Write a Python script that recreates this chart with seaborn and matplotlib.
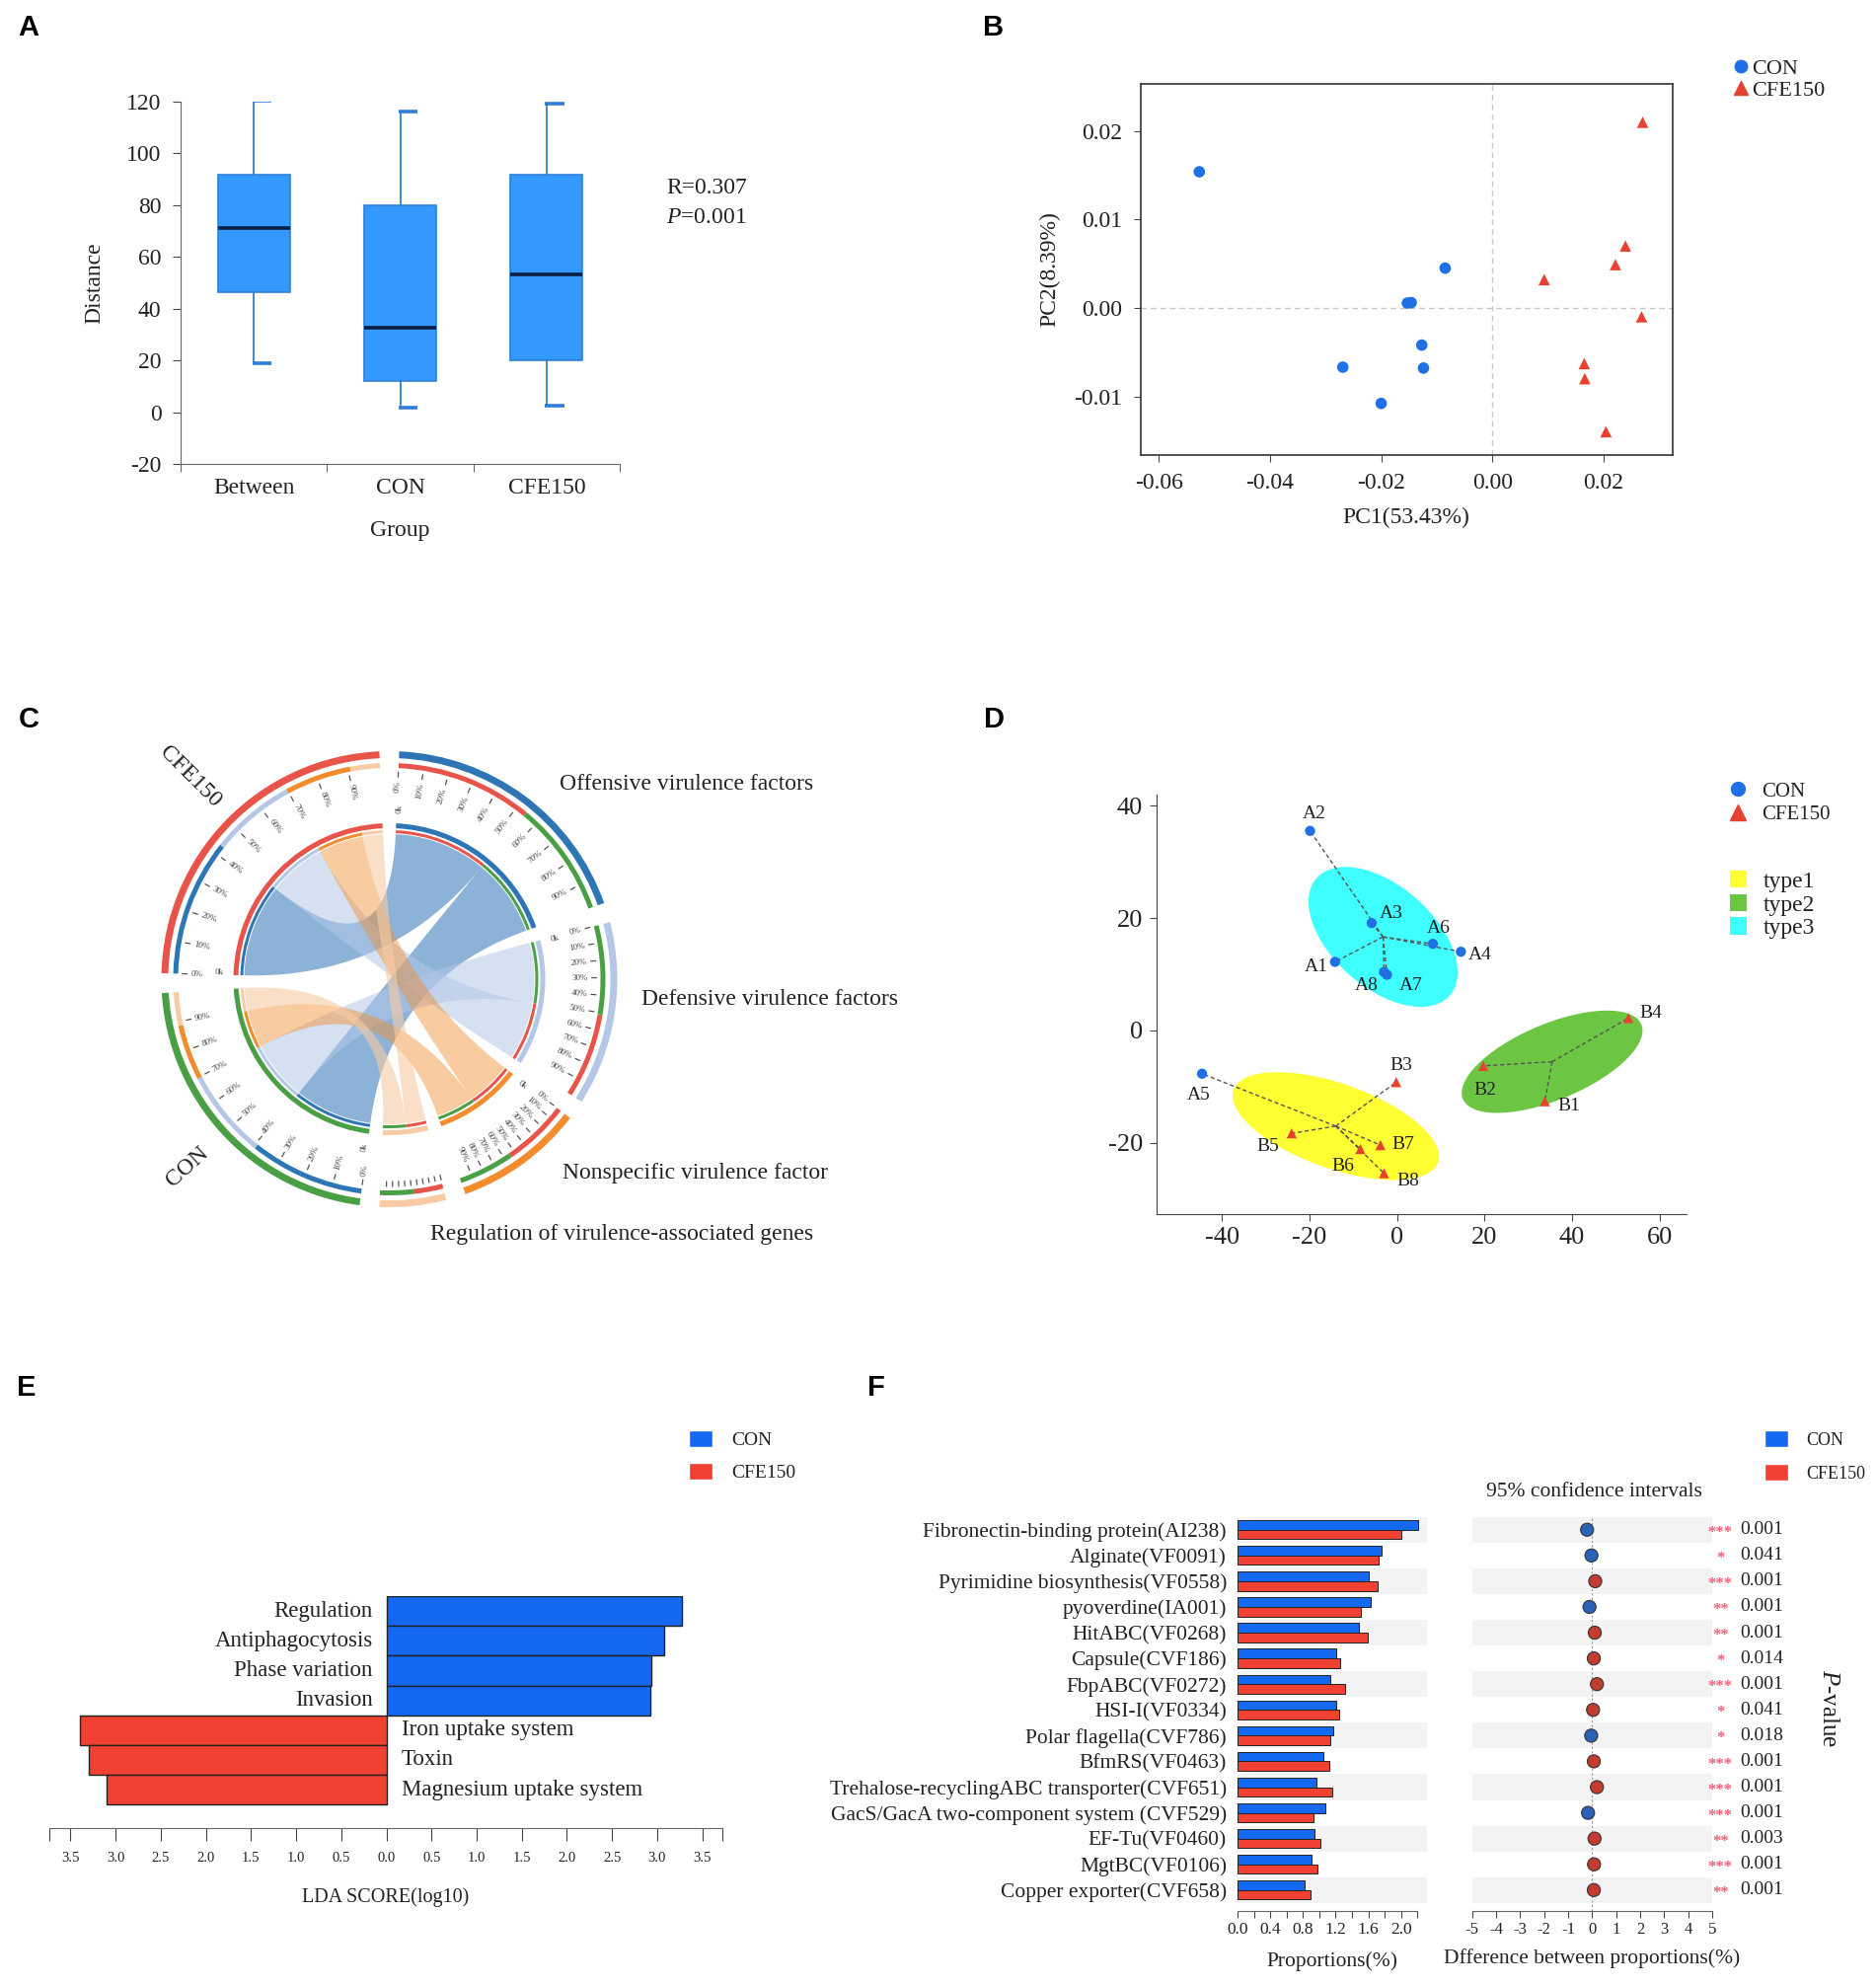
import numpy as np
import pandas as pd
import seaborn as sns
import matplotlib.pyplot as plt
from matplotlib.patches import Wedge, Polygon, Ellipse, Patch
from matplotlib.lines import Line2D

# ---------------- data ----------------
# A: ANOSIM distances (box statistics)
anosim_groups = ["Between", "CON", "CFE150"]
anosim_whislo = [18.9, 1.9, 2.6]
anosim_q1 = [46.5, 12.2, 20.0]
anosim_med = [71.0, 32.6, 53.4]
anosim_q3 = [91.7, 79.8, 91.7]
anosim_whishi = [120.3, 116.3, 119.3]

# B: PCoA
pcoa_con_x = [-0.0527, -0.0085, -0.0153, -0.0146, -0.0127, -0.0124, -0.0269, -0.0200]
pcoa_con_y = [0.0154, 0.0045, 0.00055, 0.0006, -0.0042, -0.0068, -0.0067, -0.0108]
pcoa_cfe_x = [0.0270, 0.0239, 0.0221, 0.0093, 0.0268, 0.0165, 0.0166, 0.0204]
pcoa_cfe_y = [0.0210, 0.0070, 0.0049, 0.0032, -0.0010, -0.0063, -0.0080, -0.0140]

# C: chord diagram (relative abundance of VF categories per group)
chord_cats = ["Offensive virulence factors", "Defensive virulence factors",
              "Nonspecific virulence factor", "Regulation of virulence-associated genes"]
chord_cfe = [37, 23, 18, 8]
chord_con = [31, 24, 15, 9]
cat_link_order = [["CFE150", "CON"], ["CON", "CFE150"], ["CFE150", "CON"], ["CFE150", "CON"]]

# D: PCA with clusters
pca_samples = ["A1", "A2", "A3", "A4", "A5", "A6", "A7", "A8",
               "B1", "B2", "B3", "B4", "B5", "B6", "B7", "B8"]
pca_x = [-14.2, -19.9, -5.8, 14.6, -44.6, 8.2, -2.3, -3.0,
         33.8, 19.7, -0.2, 52.9, -24.1, -8.4, -3.8, -3.0]
pca_y = [12.2, 35.5, 19.1, 14.0, -7.7, 15.4, 9.9, 10.4,
         -12.6, -6.3, -9.2, 2.2, -18.3, -21.1, -20.4, -25.4]
pca_group = ["CON"] * 8 + ["CFE150"] * 8
pca_type = ["type3", "type3", "type3", "type3", "type1", "type3", "type3", "type3",
            "type2", "type2", "type1", "type2", "type1", "type1", "type1", "type1"]
type_names = ["type1", "type2", "type3"]
ellipse_width = [48.6, 43.0, 37.4]
ellipse_height = [15.4, 13.9, 19.6]
ellipse_angle = [-14.4, 16.8, -28.8]

# E: LEfSe
lda_features = ["Regulation", "Antiphagocytosis", "Phase variation", "Invasion",
                "Iron uptake system", "Toxin", "Magnesium uptake system"]
lda_group = ["CON"] * 4 + ["CFE150"] * 3
lda_score = [3.275, 3.08, 2.94, 2.93, 3.39, 3.30, 3.10]

# F: STAMP
vf_names = ["Fibronectin-binding protein(AI238)", "Alginate(VF0091)",
            "Pyrimidine biosynthesis(VF0558)", "pyoverdine(IA001)", "HitABC(VF0268)",
            "Capsule(CVF186)", "FbpABC(VF0272)", "HSI-I(VF0334)", "Polar flagella(CVF786)",
            "BfmRS(VF0463)", "Trehalose-recyclingABC transporter(CVF651)",
            "GacS/GacA two-component system (CVF529)", "EF-Tu(VF0460)", "MgtBC(VF0106)",
            "Copper exporter(CVF658)"]
vf_con = [2.205, 1.764, 1.604, 1.629, 1.479, 1.203, 1.128, 1.203, 1.168, 1.053,
          0.967, 1.078, 0.937, 0.902, 0.817]
vf_cfe = [2.005, 1.729, 1.719, 1.504, 1.594, 1.253, 1.318, 1.238, 1.128, 1.118,
          1.153, 0.927, 1.018, 0.977, 0.887]
vf_diff = [-0.21, -0.03, 0.13, -0.11, 0.11, 0.07, 0.20, 0.04, -0.04, 0.07,
           0.20, -0.17, 0.10, 0.08, 0.07]
vf_stars = ["***", "*", "***", "**", "**", "*", "***", "*", "*", "***",
            "***", "***", "**", "***", "**"]
vf_p = ["0.001", "0.041", "0.001", "0.001", "0.001", "0.014", "0.001", "0.041",
        "0.018", "0.001", "0.001", "0.001", "0.003", "0.001", "0.001"]

# ---------------- style ----------------
sns.set_style("ticks")
plt.rcParams["font.family"] = ["Liberation Serif", "DejaVu Serif"]
plt.rcParams["mathtext.fontset"] = "custom"
plt.rcParams["mathtext.rm"] = "Liberation Serif"
plt.rcParams["mathtext.it"] = "Liberation Serif:italic"
plt.rcParams["axes.unicode_minus"] = False
plt.rcParams["text.color"] = "#222222"
plt.rcParams["axes.labelcolor"] = "#222222"
plt.rcParams["xtick.color"] = "#444444"
plt.rcParams["ytick.color"] = "#444444"
plt.rcParams["xtick.labelcolor"] = "#222222"
plt.rcParams["ytick.labelcolor"] = "#222222"

BLUE = "#1f6fe5"
RED = "#e8412f"
BAR_BLUE = "#1469f0"
BAR_RED = "#f04132"

W, H = 1901, 2012
fig = plt.figure(figsize=(W / 100, H / 100), dpi=100)


def px_axes(x0, y0, x1, y1):
    return fig.add_axes([x0 / W, 1 - y1 / H, (x1 - x0) / W, (y1 - y0) / H])


def fig_text(x, y, s, **kw):
    fig.text(x / W, 1 - y / H, s, **kw)


for letter, (lx, ly) in zip("ABCDEF", [(29, 28), (1007, 28), (29, 729), (1007, 729), (27, 1406), (888, 1406)]):
    fig_text(lx, ly, letter, family="Liberation Sans", weight="bold", fontsize=21,
             ha="center", va="center", color="black")

# ---------------- A: box plot ----------------
axA = px_axes(183, 103, 628, 470)
stats = [dict(label=g, whislo=lo, q1=a, med=m, q3=b, whishi=hi)
         for g, lo, a, m, b, hi in zip(anosim_groups, anosim_whislo, anosim_q1,
                                       anosim_med, anosim_q3, anosim_whishi)]
pos = np.arange(len(anosim_groups))
axA.bxp(stats, positions=pos, widths=0.49, patch_artist=True, showcaps=False,
        showfliers=False, manage_ticks=False,
        boxprops=dict(facecolor="#3399ff", edgecolor="#2f7fd6", linewidth=1.2),
        whiskerprops=dict(color="#2f7fd6", linewidth=1.3),
        medianprops=dict(color="#0b1d40", linewidth=2.6))
axA.hlines(anosim_whislo, pos - 0.01, pos + 0.12, color="#2f7fd6", lw=2.6)
axA.hlines(anosim_whishi, pos - 0.01, pos + 0.12, color="#2f7fd6", lw=2.6)
axA.set_xlim(-0.5, 2.5)
axA.set_ylim(-20, 120)
axA.set_yticks(range(-20, 121, 20))
axA.set_xticks(pos, labels=anosim_groups)
axA.set_xticks([-0.5, 0.5, 1.5, 2.5], minor=True)
axA.tick_params(axis="x", which="major", length=0, pad=10, labelsize=17)
axA.tick_params(axis="x", which="minor", length=6, direction="out")
axA.tick_params(axis="y", length=6, pad=8, labelsize=17)
sns.despine(ax=axA)
for sp in ["left", "bottom"]:
    axA.spines[sp].set_color("#666666")
axA.set_ylabel("Distance", fontsize=17, labelpad=16)
axA.set_xlabel("Group", fontsize=17, labelpad=16)
fig_text(675, 190, "R=0.307", fontsize=17, ha="left", va="center")
fig_text(675, 220, "$P$=0.001", fontsize=17, ha="left", va="center")

# ---------------- B: PCoA ----------------
axB = px_axes(1155.5, 85, 1695, 461)
dfB = pd.DataFrame({"x": pcoa_con_x + pcoa_cfe_x, "y": pcoa_con_y + pcoa_cfe_y,
                    "group": ["CON"] * len(pcoa_con_x) + ["CFE150"] * len(pcoa_cfe_x)})
axB.axhline(0, color="#c8c8c8", lw=1, ls=(0, (4, 3)), zorder=0)
axB.axvline(0, color="#c8c8c8", lw=1, ls=(0, (4, 3)), zorder=0)
sns.scatterplot(data=dfB, x="x", y="y", hue="group", style="group",
                markers={"CON": "o", "CFE150": "^"}, palette={"CON": BLUE, "CFE150": RED},
                s=70, edgecolor="none", legend=False, ax=axB, zorder=3)
axB.set_xlim(-0.0633, 0.0324)
axB.set_ylim(-0.01664, 0.02534)
axB.set_xticks([-0.06, -0.04, -0.02, 0.0, 0.02], labels=["-0.06", "-0.04", "-0.02", "0.00", "0.02"])
axB.set_yticks([-0.01, 0.0, 0.01, 0.02], labels=["-0.01", "0.00", "0.01", "0.02"])
axB.tick_params(length=5, pad=8, labelsize=17)
for sp in axB.spines.values():
    sp.set_color("#333333")
    sp.set_linewidth(1.2)
axB.set_xlabel("PC1(53.43%)", fontsize=17, labelpad=10)
axB.set_ylabel("PC2(8.39%)", fontsize=17, labelpad=10)
hB = [Line2D([], [], marker="o", ls="", color=BLUE, markersize=9),
      Line2D([], [], marker="^", ls="", color=RED, markersize=10)]
fig.legend(hB, ["CON", "CFE150"], loc="upper left", bbox_to_anchor=(1755 / W, 1 - 59 / H),
           frameon=False, fontsize=16, handlelength=0.8, handletextpad=0.12,
           labelspacing=0.08, borderpad=0, borderaxespad=0)

# ---------------- C: chord diagram ----------------
axC = px_axes(94.5, 692, 694.5, 1292)
axC.set_xlim(-300, 300)
axC.set_ylim(-300, 300)
axC.set_aspect("equal")
axC.axis("off")

cat_colors = ["#2e75b6", "#b4c7e7", "#f28c2c", "#f8cba4"]
chord_alpha = [0.55, 0.55, 0.45, 0.6]
grp_colors = {"CON": "#4a9f45", "CFE150": "#e8534a"}
link = {}
for c, v1, v2 in zip(chord_cats, chord_cfe, chord_con):
    link[("CFE150", c)] = v1
    link[("CON", c)] = v2
sector_order = chord_cats + ["CON", "CFE150"]
sizes = {c: link[("CFE150", c)] + link[("CON", c)] for c in chord_cats}
sizes["CFE150"] = sum(chord_cfe)
sizes["CON"] = sum(chord_con)
gap = (360 - sum(sizes.values())) / len(sector_order)
starts = {}
a = 90 - gap / 2
for name in sector_order:
    starts[name] = a
    a -= sizes[name] + gap

seg_g, seg_c = {}, {}
for g in ["CON", "CFE150"]:
    off = 0
    for c in chord_cats:
        v = link[(g, c)]
        seg_g[(g, c)] = (starts[g] - off - v, starts[g] - off)
        off += v
for ci, c in enumerate(chord_cats):
    off = 0
    for g in cat_link_order[ci]:
        v = link[(g, c)]
        seg_c[(g, c)] = (starts[c] - off - v, starts[c] - off)
        off += v


def pol(r, deg):
    t = np.radians(deg)
    return np.array([r * np.cos(t), r * np.sin(t)])


def arc_pts(r, a0, a1, n=60):
    t = np.radians(np.linspace(a0, a1, n))
    return np.column_stack([r * np.cos(t), r * np.sin(t)])


def bez(p0, p2, n=60):
    t = np.linspace(0, 1, n)[:, None]
    return (1 - t) ** 2 * p0 + t ** 2 * p2


def ring(r_out, width, lo, hi, color):
    axC.add_patch(Wedge((0, 0), r_out, lo, hi, width=width, facecolor=color, edgecolor="none"))


own_color = {c: col for c, col in zip(chord_cats, cat_colors)}
own_color.update(grp_colors)
for name in sector_order:
    S, size = starts[name], sizes[name]
    ring(231, 7, S - size, S, own_color[name])
    ring(158, 5, S - size, S, own_color[name])
for (g, c), (lo, hi) in seg_g.items():
    ring(219, 5, lo, hi, own_color[c])
    ring(151, 3, lo, hi, own_color[c])
for (g, c), (lo, hi) in seg_c.items():
    ring(219, 5, lo, hi, grp_colors[g])
    ring(151, 3, lo, hi, grp_colors[g])

# chords
for ci, c in enumerate(chord_cats):
    for g in ["CFE150", "CON"]:
        s, t = seg_g[(g, c)], seg_c[(g, c)]
        p1 = arc_pts(147, s[0], s[1])
        p2 = bez(p1[-1], pol(147, t[0]))
        p3 = arc_pts(147, t[0], t[1])
        p4 = bez(p3[-1], p1[0])
        axC.add_patch(Polygon(np.vstack([p1, p2, p3, p4]), closed=True,
                              facecolor=cat_colors[ci], edgecolor="none", alpha=chord_alpha[ci]))


def radial_text(r, ang, s, **kw):
    ang = (ang + 180) % 360 - 180
    if -90 <= ang <= 90:
        rot, ha = ang, "right"
    else:
        rot, ha = ang - 180, "left"
    x, y = pol(r, ang)
    axC.text(x, y, s, rotation=rot, ha=ha, va="center", rotation_mode="anchor", **kw)


for name in sector_order:
    S, size = starts[name], sizes[name]
    for k in range(10):
        ang = S - size * k / 10
        p0, p1 = pol(205, ang), pol(210, ang)
        axC.plot([p0[0], p1[0]], [p0[1], p1[1]], color="#555555", lw=0.9)
        if size > 25:
            radial_text(201, ang, f"{k * 10}%", fontsize=6.5, color="#444444")
    if size > 25:
        radial_text(177, S - 0.8, "0k", fontsize=6.5, color="#444444")

axC.text(-201.5, 205, "CFE150", rotation=-45, ha="center", va="center", fontsize=17)
axC.text(-204.5, -190, "CON", rotation=42, ha="center", va="center", fontsize=17)
axC.text(172.3, 197.1, chord_cats[0], ha="left", va="center", fontsize=17)
axC.text(255, -20.8, chord_cats[1], ha="left", va="center", fontsize=17)
axC.text(175.4, -196.6, chord_cats[2], ha="left", va="center", fontsize=17)
axC.text(41.8, -258.5, chord_cats[3], ha="left", va="center", fontsize=17)

# ---------------- D: PCA clusters ----------------
axD = px_axes(1172, 805.3, 1709, 1229.6)
dfD = pd.DataFrame({"sample": pca_samples, "x": pca_x, "y": pca_y,
                    "group": pca_group, "type": pca_type})
type_colors = {"type1": "#ffff33", "type2": "#6cc644", "type3": "#40ffff"}
for ti, tname in enumerate(type_names):
    sub = dfD[dfD["type"] == tname]
    cx, cy = sub["x"].mean(), sub["y"].mean()
    axD.add_patch(Ellipse((cx, cy), ellipse_width[ti], ellipse_height[ti], angle=ellipse_angle[ti],
                          facecolor=type_colors[tname], edgecolor="none", zorder=1))
    for px_, py_ in zip(sub["x"], sub["y"]):
        axD.plot([cx, px_], [cy, py_], color="#555555", lw=1, ls=(0, (3, 2)), zorder=2)
sns.scatterplot(data=dfD, x="x", y="y", hue="group", style="group",
                markers={"CON": "o", "CFE150": "^"}, palette={"CON": BLUE, "CFE150": RED},
                s=55, edgecolor="none", legend=False, ax=axD, zorder=3)
label_off = {"A1": (-19, 5), "A2": (4, -17), "A3": (20, -10), "A4": (19, 3), "A5": (-3, 22),
             "A6": (6, -16), "A7": (24, 11), "A8": (-18, 14), "B1": (24, 5), "B2": (2, 25),
             "B3": (5, -17), "B4": (23, -5), "B5": (-24, 13), "B6": (-18, 17), "B7": (23, -1),
             "B8": (24, 8)}
for s, x, y in zip(pca_samples, pca_x, pca_y):
    dx, dy = label_off[s]
    axD.annotate(s, (x, y), xytext=(dx * 0.72, -dy * 0.72), textcoords="offset points",
                 ha="center", va="center", fontsize=14)
axD.set_xlim(-55, 66.2)
axD.set_ylim(-32.6, 41.9)
axD.set_xticks([-40, -20, 0, 20, 40, 60])
axD.set_yticks([-20, 0, 20, 40])
axD.set_xlabel("")
axD.set_ylabel("")
axD.tick_params(length=5, pad=5, labelsize=19)
sns.despine(ax=axD)
for sp in ["left", "bottom"]:
    axD.spines[sp].set_color("#444444")
hD1 = [Line2D([], [], marker="o", ls="", color=BLUE, markersize=10),
       Line2D([], [], marker="^", ls="", color=RED, markersize=11)]
fig.legend(hD1, ["CON", "CFE150"], loc="upper left", bbox_to_anchor=(1750.6 / W, 1 - 792 / H),
           frameon=False, fontsize=15, handlelength=1.0, handletextpad=0.68,
           labelspacing=0.19, borderpad=0, borderaxespad=0)
hD2 = [Patch(facecolor=type_colors[t], edgecolor="none") for t in type_names]
fig.legend(hD2, type_names, loc="upper left", bbox_to_anchor=(1752.5 / W, 1 - 882 / H),
           frameon=False, fontsize=17, handlelength=0.72, handleheight=0.74, handletextpad=0.74,
           labelspacing=0.08, borderpad=0, borderaxespad=0)

# ---------------- E: LDA bars ----------------
axE = px_axes(50.4, 1617, 731.7, 1852.4)
lda_signed = [s if g == "CON" else -s for s, g in zip(lda_score, lda_group)]
dfE = pd.DataFrame({"feature": lda_features, "score": lda_signed, "group": lda_group})
sns.barplot(data=dfE, x="score", y="feature", hue="group", palette={"CON": BAR_BLUE, "CFE150": BAR_RED},
            saturation=1, dodge=False, width=1.0, edgecolor="#222222", linewidth=1.0, orient="h",
            legend=False, errorbar=None, ax=axE)
for i, (f, g) in enumerate(zip(lda_features, lda_group)):
    if g == "CON":
        axE.text(-0.15, i, f, ha="right", va="center", fontsize=16.5)
    else:
        axE.text(0.17, i, f, ha="left", va="center", fontsize=16.5)
axE.set_ylim(7.30, -0.5)
axE.set_xlim(-3.73, 3.72)
xt = np.arange(-3.5, 3.51, 0.5)
axE.set_xticks(list(xt) + [-3.73, 3.72], labels=[f"{abs(v):.1f}" for v in xt] + ["", ""])
axE.set_yticks([])
axE.set_ylabel("")
axE.tick_params(axis="x", length=9, pad=8, labelsize=10.5)
for sp in ["left", "right", "top"]:
    axE.spines[sp].set_visible(False)
axE.spines["bottom"].set_color("#666666")
axE.set_xlabel("LDA SCORE(log10)", fontsize=14.5, labelpad=17)
hE = [Patch(facecolor=BAR_BLUE), Patch(facecolor=BAR_RED)]
fig.legend(hE, ["CON", "CFE150"], loc="upper left", bbox_to_anchor=(698 / W, 1 - 1449 / H),
           frameon=False, fontsize=14, handlelength=1.24, handleheight=0.98, handletextpad=1.0,
           labelspacing=0.72, borderpad=0, borderaxespad=0)

# ---------------- F: STAMP proportions ----------------
rows = np.arange(len(vf_names))
axF1 = px_axes(1254.2, 1536.7, 1446.1, 1936.2)
for i in rows[::2]:
    axF1.axhspan(i - 0.5, i + 0.5, color="#f3f3f3", lw=0, zorder=0)
dfF = pd.DataFrame({"feature": vf_names * 2, "value": vf_con + vf_cfe,
                    "group": ["CON"] * len(vf_names) + ["CFE150"] * len(vf_names)})
sns.barplot(data=dfF, y="feature", x="value", hue="group", hue_order=["CON", "CFE150"],
            palette={"CON": BAR_BLUE, "CFE150": BAR_RED}, saturation=1, width=0.74,
            edgecolor="#222222", linewidth=0.7, orient="h", legend=False, errorbar=None, ax=axF1)
axF1.set_ylim(14.82, -0.5)
axF1.set_xlim(0, 2.32)
fx = np.arange(0, 2.21, 0.2)
axF1.set_xticks(fx, labels=[f"{v:.1f}" if i % 2 == 0 else "" for i, v in enumerate(fx)])
axF1.tick_params(axis="x", length=5, pad=3, labelsize=12.5)
axF1.tick_params(axis="y", length=0, pad=8, labelsize=15.5)
axF1.set_ylabel("")
for sp in ["left", "right", "top"]:
    axF1.spines[sp].set_visible(False)
axF1.spines["bottom"].set_bounds(0, 2.2)
axF1.spines["bottom"].set_color("#666666")
axF1.set_xlabel("Proportions(%)", fontsize=15.5, labelpad=10)

axF2 = px_axes(1491.7, 1536.7, 1735, 1936.2)
for i in rows[::2]:
    axF2.axhspan(i - 0.5, i + 0.5, color="#f3f3f3", lw=0, zorder=0)
axF2.axvline(0, color="#999999", lw=0.8, ls=(0, (2, 2)), zorder=1)
dfCI = pd.DataFrame({"diff": vf_diff, "row": rows,
                     "higher": ["CON" if d < 0 else "CFE150" for d in vf_diff]})
sns.scatterplot(data=dfCI, x="diff", y="row", hue="higher",
                palette={"CON": "#2a62b8", "CFE150": "#c43c30"}, s=90,
                edgecolor="#333333", linewidth=0.8, legend=False, ax=axF2, zorder=3)
axF2.set_ylim(14.82, -0.5)
axF2.set_xlim(-5, 5)
axF2.set_xticks(range(-5, 6))
axF2.set_yticks([])
axF2.set_ylabel("")
axF2.tick_params(axis="x", length=5, pad=3, labelsize=12)
for sp in ["left", "right", "top"]:
    axF2.spines[sp].set_visible(False)
axF2.spines["bottom"].set_color("#666666")
axF2.set_xlabel("Dfference between proportions(%)", fontsize=15.5, labelpad=8)
for i, (st, p) in enumerate(zip(vf_stars, vf_p)):
    axF2.text(5.34, i + 0.12, st, color="#f0607a", ha="center", va="center",
              fontsize=12, weight="bold")
    axF2.text(6.16, i, p, ha="left", va="center", fontsize=14)
fig_text(1615, 1511, "95% confidence intervals", fontsize=15.5, ha="center", va="center")
fig_text(1853, 1731, "$P$-value", fontsize=18, rotation=270, ha="center", va="center")
hF = [Patch(facecolor=BAR_BLUE), Patch(facecolor=BAR_RED)]
fig.legend(hF, ["CON", "CFE150"], loc="upper left", bbox_to_anchor=(1787.5 / W, 1 - 1449 / H),
           frameon=False, fontsize=13, handlelength=1.38, handleheight=1.1, handletextpad=0.97,
           labelspacing=0.85, borderpad=0, borderaxespad=0)

fig.savefig("out.png", dpi=100)
